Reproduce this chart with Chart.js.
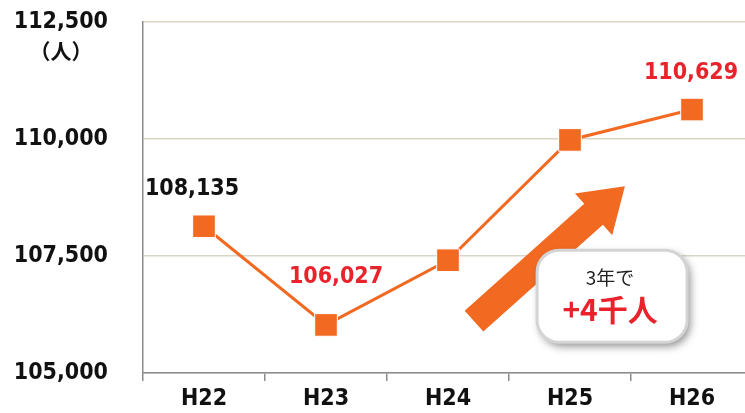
<!DOCTYPE html>
<html><head><meta charset="utf-8">
<script src="https://cdn.jsdelivr.net/npm/chart.js@4.4.0/dist/chart.umd.min.js"></script>
<style>html,body{margin:0;padding:0;overflow:hidden;background:#fff;width:745px;height:413px}canvas{display:block}</style>
</head><body>
<canvas id="c" width="755" height="413"></canvas>
<script>
const categories = ['H22', 'H23', 'H24', 'H25', 'H26'];
const population = [108135, 106027, 107410, 109980, 110629];
const labelTexts = ['108,135', '106,027', '', '', '110,629'];
const yTicks = [105000, 107500, 110000, 112500];
const unitLabel = '（人）';
const calloutTop = '3年で';
const calloutMain = '+4千人';

const ORANGE = '#f26a22';
const RED = '#e8232b';
const FONT = '"DejaVu Sans Condensed","DejaVu Sans",sans-serif';
const CJK = '"Noto Sans CJK JP","Noto Sans",sans-serif';

const decor = {
  id: 'decor',
  afterDatasetsDraw(chart) {
    const ctx = chart.ctx;
    const xs = chart.scales.x, ys = chart.scales.y;
    const meta = chart.getDatasetMeta(0);
    // data labels
    const offsets = [[-12, -37], [10, -48], [0, -37], [0, -37], [-1, -37]];
    ctx.save();
    ctx.font = 'bold 23px ' + FONT;
    ctx.textAlign = 'center';
    ctx.textBaseline = 'middle';
    meta.data.forEach((pt, i) => {
      if (!labelTexts[i]) return;
      ctx.fillStyle = i === 0 ? '#111' : RED;
      ctx.fillText(labelTexts[i], pt.x + offsets[i][0], pt.y + offsets[i][1]);
    });
    // unit label
    ctx.fillStyle = '#111';
    ctx.font = 'bold 21px ' + CJK;
    ctx.fillText(unitLabel, 61, ys.getPixelForValue(112500) + 29);
    ctx.restore();

    // arrow (positioned in data space)
    const tail = { x: xs.getPixelForValue(2.213), y: ys.getPixelForValue(106109) };
    const tip = { x: xs.getPixelForValue(3.45), y: ys.getPixelForValue(108989) };
    const dx = tip.x - tail.x, dy = tip.y - tail.y, L = Math.hypot(dx, dy);
    const ux = dx / L, uy = dy / L, nx = -uy, ny = ux;
    const hw = 14, hh = 28, headLen = 42;
    const bx = tip.x - ux * headLen, by = tip.y - uy * headLen;
    ctx.save();
    ctx.fillStyle = ORANGE;
    ctx.beginPath();
    ctx.moveTo(tail.x + nx * hw, tail.y + ny * hw);
    ctx.lineTo(bx + nx * hw, by + ny * hw);
    ctx.lineTo(bx + nx * hh, by + ny * hh);
    ctx.lineTo(tip.x, tip.y);
    ctx.lineTo(bx - nx * hh, by - ny * hh);
    ctx.lineTo(bx - nx * hw, by - ny * hw);
    ctx.lineTo(tail.x - nx * hw, tail.y - ny * hw);
    ctx.closePath();
    ctx.fill();
    ctx.restore();

    // callout box
    const cx = xs.getPixelForValue(3.345);
    const cy = ys.getPixelForValue(106642);
    const w = 150, h = 92, r = 22;
    const x0 = cx - w / 2, y0 = cy - h / 2;
    ctx.save();
    ctx.shadowColor = 'rgba(0,0,0,0.45)';
    ctx.shadowBlur = 8;
    ctx.shadowOffsetX = 3;
    ctx.shadowOffsetY = 4;
    ctx.beginPath();
    ctx.roundRect(x0, y0, w, h, r);
    ctx.fillStyle = '#fff';
    ctx.fill();
    ctx.shadowColor = 'transparent';
    ctx.lineWidth = 3;
    ctx.strokeStyle = '#d4d4d4';
    ctx.stroke();
    ctx.textAlign = 'center';
    ctx.textBaseline = 'middle';
    ctx.fillStyle = '#222';
    ctx.font = '19px ' + CJK;
    ctx.fillText(calloutTop, cx - 2, y0 + 28);
    ctx.fillStyle = RED;
    ctx.font = 'bold 30px ' + CJK;
    ctx.fillText(calloutMain, cx - 2, y0 + 59);
    ctx.restore();
  }
};

new Chart(document.getElementById('c'), {
  type: 'line',
  data: {
    labels: categories,
    datasets: [{
      data: population,
      borderColor: ORANGE,
      borderWidth: 3,
      backgroundColor: ORANGE,
      pointStyle: 'rect',
      pointRadius: 16,
      pointBorderColor: '#fff',
      pointBorderWidth: 1,
      pointBackgroundColor: ORANGE,
      tension: 0
    }]
  },
  options: {
    responsive: false,
    animation: false,
    devicePixelRatio: 1,
    layout: { autoPadding: false, padding: { top: 22, right: 2, left: 0, bottom: 0 } },
    plugins: { legend: { display: false }, tooltip: { enabled: false } },
    scales: {
      x: {
        offset: true,
        grid: { offset: true, drawOnChartArea: false, color: '#8c8c8c', tickLength: 8, lineWidth: 1.5 },
        border: { color: '#8c8c8c', width: 1.5 },
        ticks: { color: '#111', font: { family: FONT, size: 23, weight: 'bold' }, padding: 4, maxRotation: 0 },
        afterFit(s) { s.height = 40; }
      },
      y: {
        min: 105000, max: 112500,
        afterBuildTicks(s) { s.ticks = yTicks.map(v => ({ value: v })); },
        grid: { color: '#d9d6c8', lineWidth: 1.5, drawTicks: true, tickLength: 35, tickColor: 'rgba(0,0,0,0)' },
        border: { color: '#8c8c8c', width: 1.5 },
        ticks: {
          color: '#111', padding: 0,
          font: { family: FONT, size: 23, weight: 'bold' },
          callback: v => v.toLocaleString('en-US')
        },
        afterFit(s) { s.width = 143; }
      }
    }
  },
  plugins: [decor]
});
</script>
</body></html>
